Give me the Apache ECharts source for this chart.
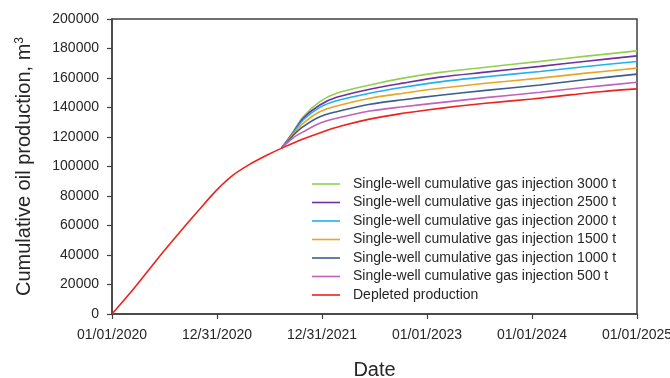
<!DOCTYPE html>
<html>
<head>
<meta charset="utf-8">
<script src="https://cdn.jsdelivr.net/npm/echarts@6/dist/echarts.min.js"></script>
<style>
  html, body { margin: 0; padding: 0; background: #fff; }
  #chart { width: 670px; height: 378px; }
</style>
</head>
<body>
<div id="chart"></div>
<script>
// Tick labels for the date axis (one per year boundary, counted in days from 01/01/2020)
var dateTickLabels = ['01/01/2020', '12/31/2020', '12/31/2021', '01/01/2023', '01/01/2024', '01/01/2025'];

// Depleted production: days since 01/01/2020 and cumulative oil (m3)
var depletedDays = [0, 60, 120, 180, 240, 300, 364, 420, 480, 540, 600, 660, 730, 800, 900, 1000, 1096, 1200, 1300, 1461, 1600, 1700, 1826];
var depletedValues = [0, 13500, 28000, 42500, 56500, 70000, 84000, 94000, 101600, 107800, 113300, 118300, 123300, 127600, 132300, 135700, 138300, 140800, 142900, 145800, 148700, 150700, 152600];

// Gas injection cases start from the branch point on the depleted curve
var injectionDays = [590, 630, 665, 723, 781, 897, 1013, 1141, 1300, 1489, 1650, 1826];
var injection3000 = [112500, 123500, 133700, 144000, 149700, 155300, 159900, 163800, 167300, 171300, 174800, 178400];
var injection2500 = [112500, 123000, 132700, 141700, 146900, 152400, 156500, 160600, 164000, 167900, 171400, 175000];
var injection2000 = [112500, 122500, 131500, 140100, 144600, 149700, 153700, 157400, 160800, 164400, 167800, 171200];
var injection1500 = [112500, 121800, 129300, 137100, 141000, 146300, 149700, 153000, 156400, 159900, 163300, 166700];
var injection1000 = [112500, 121000, 127000, 133700, 137100, 142200, 145300, 148300, 151600, 155300, 159000, 162600];
var injection500  = [112500, 119500, 123500, 129300, 132700, 137600, 140500, 143300, 146700, 150300, 153700, 157100];

var seriesNames = [
  'Single-well cumulative gas injection 3000 t',
  'Single-well cumulative gas injection 2500 t',
  'Single-well cumulative gas injection 2000 t',
  'Single-well cumulative gas injection 1500 t',
  'Single-well cumulative gas injection 1000 t',
  'Single-well cumulative gas injection 500 t',
  'Depleted production'
];
var seriesColors = ['#92d050', '#7030a0', '#1fb2ef', '#e9a526', '#3e5c8c', '#c063b8', '#f0201c'];

function pairs(xs, ys) {
  return xs.map(function (x, i) { return [x, ys[i]]; });
}

function lineSeries(name, color, data) {
  return {
    name: name,
    type: 'line',
    data: data,
    symbol: 'none',
    smooth: 0.3,
    lineStyle: { width: 1.6, color: color },
    itemStyle: { color: color }
  };
}

var injectionSets = [injection3000, injection2500, injection2000, injection1500, injection1000, injection500];
var series = injectionSets.map(function (vals, i) {
  return lineSeries(seriesNames[i], seriesColors[i], pairs(injectionDays, vals));
});
series.push(lineSeries(seriesNames[6], seriesColors[6], pairs(depletedDays, depletedValues)));

var font = 'Liberation Sans, Arial, sans-serif';
var textColor = '#262626';
var axisColor = '#404040';

var chart = echarts.init(document.getElementById('chart'), null, { renderer: 'canvas' });
chart.setOption({
  animation: false,
  backgroundColor: '#ffffff',
  grid: {
    left: 112, right: 33, top: 19, bottom: 64,
    outerBoundsMode: 'none',
    containLabel: false,
    show: true, borderColor: axisColor, borderWidth: 1.5, backgroundColor: 'transparent'
  },
  legend: {
    orient: 'vertical',
    left: 307,
    top: 172,
    itemWidth: 28,
    itemHeight: 14,
    itemGap: 4.5,
    icon: 'path://M0,0 L28,0 L28,1.6 L0,1.6 Z',
    textStyle: { fontFamily: font, fontSize: 14, color: textColor, padding: [0, 0, 0, 8] },
    data: seriesNames
  },
  xAxis: {
    type: 'value',
    min: 0,
    max: 1826.25,
    interval: 365.25,
    name: 'Date',
    nameLocation: 'middle',
    nameGap: 46,
    nameTextStyle: { fontFamily: font, fontSize: 20, color: textColor },
    splitLine: { show: false },
    axisLine: { show: true, lineStyle: { color: axisColor, width: 1.5 } },
    axisTick: { show: true, inside: false, length: 5, lineStyle: { color: axisColor, width: 1.2 } },
    axisLabel: {
      margin: 14,
      fontFamily: font, fontSize: 14, color: textColor,
      formatter: function (v) { return dateTickLabels[Math.round(v / 365.25)] || ''; }
    }
  },
  yAxis: {
    type: 'value',
    min: 0,
    max: 200000,
    interval: 20000,
    name: 'Cumulative oil production, m{sup|3}',
    nameLocation: 'middle',
    nameRotate: 90,
    nameGap: 78,
    nameTextStyle: {
      fontFamily: font, fontSize: 20, color: textColor,
      rich: { sup: { fontFamily: font, fontSize: 12, color: textColor, verticalAlign: 'top', lineHeight: 20 } }
    },
    splitLine: { show: false },
    axisLine: { show: true, lineStyle: { color: axisColor, width: 1.5 } },
    axisTick: { show: true, inside: false, length: 5, lineStyle: { color: axisColor, width: 1.2 } },
    axisLabel: {
      margin: 13, fontFamily: font, fontSize: 14, color: textColor,
      formatter: function (v) { return String(v); }
    }
  },
  series: series
});
</script>
</body>
</html>
